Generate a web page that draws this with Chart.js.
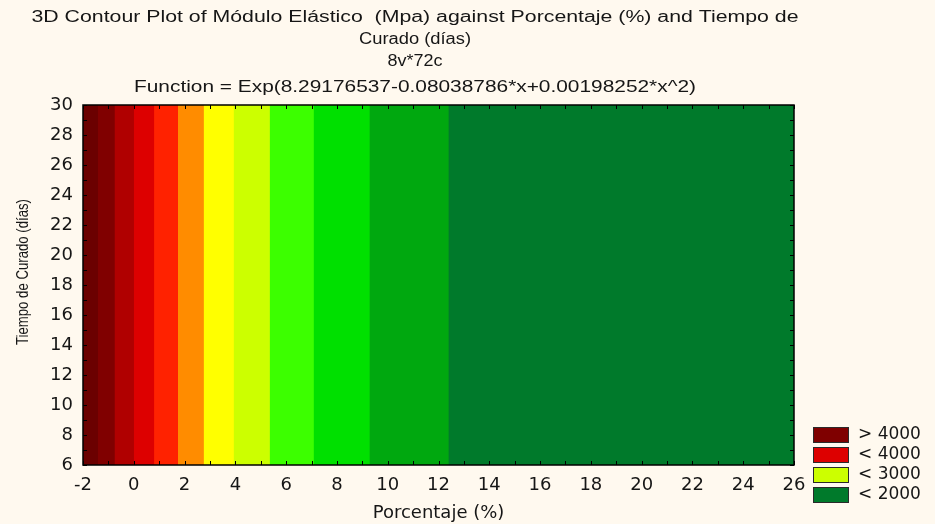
<!DOCTYPE html>
<html>
<head>
<meta charset="utf-8">
<script src="https://cdn.jsdelivr.net/npm/chart.js@4/dist/chart.umd.min.js"></script>
<style>
  html, body { margin: 0; padding: 0; background: #fff9ef; }
  #wrap { width: 935px; height: 524px; }
</style>
</head>
<body>
<div id="wrap"><canvas id="contour"></canvas></div>
<script>
// contour band edges along Porcentaje (%), left to right
let bandEdges = [-2, -1.41, -0.76, 0, 0.8, 1.74, 2.75, 3.93, 5.35, 7.08, 9.28, 12.39, 26];
let bandColors = ['#6b0000', '#800000', '#b00000', '#dd0000', '#ff2200', '#ff8c00',
                  '#ffff00', '#ccff00', '#3cff00', '#00e000', '#00a80f', '#007a2b'];
let dayRange = [6, 30];
let pctRange = [-2, 26];

let legendLabels = ['> 4000', '< 4000', '< 3000', '< 2000'];
let legendColors = ['#7f0000', '#dd0000', '#ccff00', '#007a2b'];

let titleLines = [
    '3D Contour Plot of Módulo Elástico  (Mpa) against Porcentaje (%) and Tiempo de',
    'Curado (días)',
    '8v*72c',
    'Function = Exp(8.29176537-0.08038786*x+0.00198252*x^2)'
];
// target widths / centers of the title lines (the original text is stretched)
let titleWidths = [767, 112, 55, 562];
let titleY = [18, 40, 62, 88];
let yTitle = 'Tiempo de Curado (días)';

let textColor = '#161616';

// each band is filled from its left edge to the right end, later bands on top
let datasets = [];
let n = bandColors.length;
for (let i = 0; i < n; i++) {
    datasets.push({
        label: 'band' + i,
        data: [{x: bandEdges[i], y: dayRange[1]}, {x: pctRange[1], y: dayRange[1]}],
        backgroundColor: bandColors[i],
        borderWidth: 0,
        pointRadius: 0,
        fill: 'start',
        order: n - i
    });
}

let frame = {
    id: 'frame',
    afterDatasetsDraw(chart) {
        let c = chart.ctx;
        let a = chart.chartArea;
        let xs = chart.scales.x, ys = chart.scales.y;
        c.save();
        c.strokeStyle = '#000';
        c.lineWidth = 1;
        c.beginPath();
        for (let v = pctRange[0]; v <= pctRange[1]; v++) {
            let px = Math.round(xs.getPixelForValue(v)) + 0.5;
            c.moveTo(px, a.bottom); c.lineTo(px, a.bottom - 4);
            c.moveTo(px, a.top); c.lineTo(px, a.top + 4);
        }
        for (let v = dayRange[0]; v <= dayRange[1]; v++) {
            let py = Math.round(ys.getPixelForValue(v)) + 0.5;
            c.moveTo(a.left, py); c.lineTo(a.left + 4, py);
            c.moveTo(a.right, py); c.lineTo(a.right - 4, py);
        }
        c.stroke();
        c.lineWidth = 1.5;
        c.strokeRect(a.left, a.top, a.right - a.left, a.bottom - a.top);
        c.restore();
    }
};

function stretchedText(c, t, x, y, width, rot) {
    let sx = width / c.measureText(t).width;
    c.save();
    c.translate(x, y);
    if (rot) c.rotate(rot);
    c.scale(sx, 1);
    c.textAlign = 'center';
    c.fillText(t, 0, 0);
    c.restore();
}

let texts = {
    id: 'texts',
    afterDraw(chart) {
        let c = chart.ctx;
        let a = chart.chartArea;
        c.save();
        c.fillStyle = textColor;
        c.textBaseline = 'middle';
        c.font = '16px "Liberation Sans"';
        titleLines.forEach(function (t, i) {
            stretchedText(c, t, 415, titleY[i], titleWidths[i], 0);
        });
        stretchedText(c, yTitle, 24, 272, 146, -Math.PI / 2);

        // legend, anchored to the bottom right of the plot
        c.font = '17px "DejaVu Sans"';
        c.textAlign = 'left';
        let bx = a.right + 19;
        let by = a.bottom - 38;
        legendLabels.forEach(function (t, i) {
            let y = by + i * 20;
            c.fillStyle = legendColors[i];
            c.fillRect(bx, y, 35, 15);
            c.strokeStyle = '#2a2a2a';
            c.lineWidth = 1;
            c.strokeRect(bx + 0.5, y + 0.5, 35, 15);
            c.fillStyle = textColor;
            c.fillText(t, bx + 45, y + 8);
        });
        c.restore();
    }
};

let ctx = document.getElementById('contour').getContext('2d');

new Chart(ctx, {
    type: 'line',
    data: {datasets: datasets},
    options: {
        responsive: true,
        maintainAspectRatio: false,
        animation: false,
        layout: {padding: {top: 105, right: 141, left: 0, bottom: 0}},
        plugins: {
            legend: {display: false},
            tooltip: {enabled: false},
            filler: {propagate: false}
        },
        scales: {
            x: {
                type: 'linear',
                min: pctRange[0],
                max: pctRange[1],
                afterFit: function (s) { s.height = 59; },
                grid: {display: false},
                border: {display: false},
                ticks: {
                    stepSize: 2,
                    padding: 2,
                    color: textColor,
                    font: {family: 'DejaVu Sans', size: 18}
                },
                title: {
                    display: true,
                    text: 'Porcentaje (%)',
                    color: textColor,
                    font: {family: 'DejaVu Sans', size: 18},
                    padding: {top: 0, bottom: 0}
                }
            },
            y: {
                type: 'linear',
                min: dayRange[0],
                max: dayRange[1],
                afterFit: function (s) { s.width = 83; },
                grid: {display: false},
                border: {display: false},
                ticks: {
                    stepSize: 2,
                    padding: 2,
                    color: textColor,
                    font: {family: 'DejaVu Sans', size: 18}
                }
            }
        }
    },
    plugins: [frame, texts]
});
</script>
</body>
</html>
